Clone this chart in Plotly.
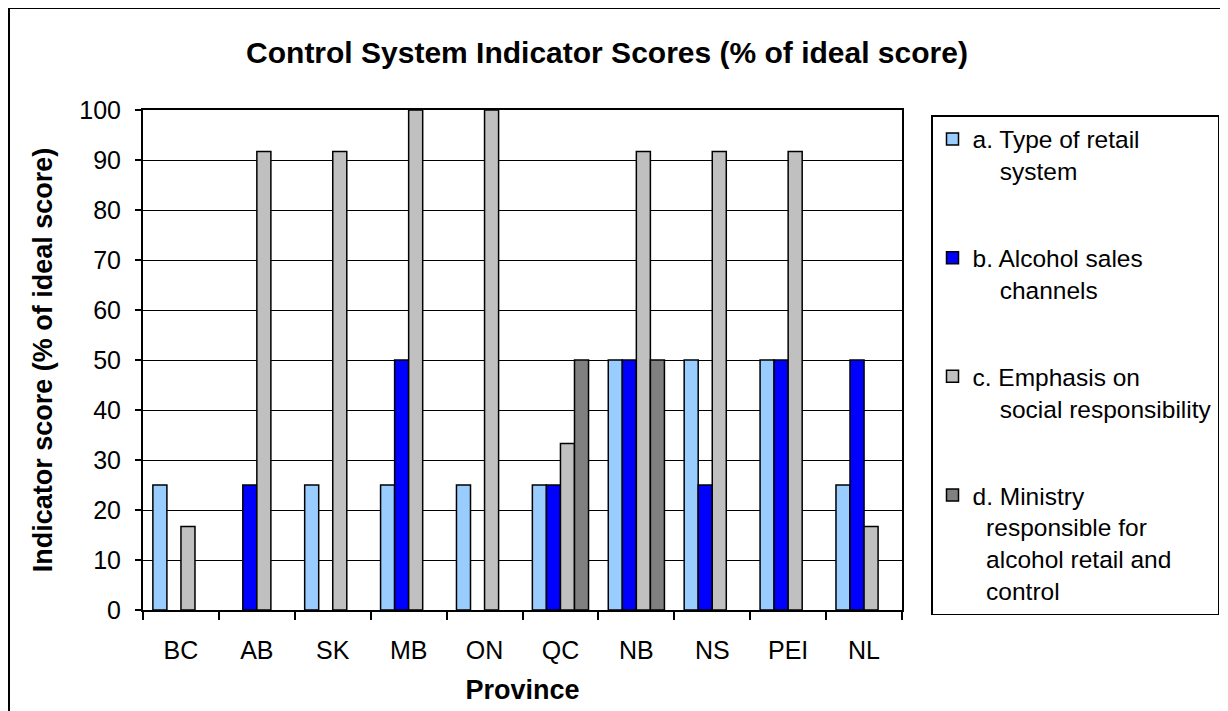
import plotly.graph_objects as go

provinces = ["BC", "AB", "SK", "MB", "ON", "QC", "NB", "NS", "PEI", "NL"]
type_of_retail = [25, 0, 25, 25, 25, 25, 50, 50, 50, 25]
sales_channels = [0, 25, 0, 50, 0, 25, 50, 25, 50, 50]
social_resp = [16.7, 91.7, 91.7, 100, 100, 33.3, 91.7, 91.7, 91.7, 16.7]
ministry = [0, 0, 0, 0, 0, 50, 50, 0, 0, 0]

NB = "\u00a0"
series = [
    ("a. Type of retail<br>" + NB * 4 + "system", type_of_retail, "#99CCFF"),
    ("b. Alcohol sales<br>" + NB * 4 + "channels", sales_channels, "#0000FF"),
    ("c. Emphasis on<br>" + NB * 4 + "social responsibility", social_resp, "#C0C0C0"),
    ("d. Ministry<br>" + NB * 2 + "responsible for<br>" + NB * 2 + "alcohol retail and<br>" + NB * 2 + "control",
     ministry, "#808080"),
]

FONT = "Arial, Liberation Sans, sans-serif"

fig = go.Figure()
for i, (name, vals, col) in enumerate(series):
    fig.add_trace(go.Bar(
        x=provinces, y=[v if v else None for v in vals], name=name, legendgroup=f"g{i}",
        marker=dict(color=col, line=dict(color="black", width=1.5)),
    ))

OFF = 8  # page body margin
W, H = 1220, 711
# plot area in page pixels: x 143..902, y 110..610
ml, mt = 143 - OFF, 110 - OFF
mr = W - (902 - OFF)
mb = H - (610 - OFF)
pw, ph = W - ml - mr, H - mt - mb

def px_x(p):  # page pixel -> paper x
    return (p - OFF - ml) / pw

def px_y(p):  # page pixel -> paper y
    return (H - mb - (p - OFF)) / ph

fig.update_layout(
    width=W, height=H,
    margin=dict(l=ml, r=mr, t=mt, b=mb, autoexpand=False),
    paper_bgcolor="white", plot_bgcolor="white",
    font=dict(family=FONT, color="black", size=25),
    barmode="group", bargap=0.26, bargroupgap=0,
    title=dict(text="<b>Control System Indicator Scores (% of ideal score)</b>",
               x=(607 - OFF) / W, xanchor="center", y=1 - (52 - OFF) / H, yanchor="middle",
               font=dict(size=30, family=FONT, color="black")),
    legend=dict(x=px_x(931), xanchor="left", y=px_y(115), yanchor="top",
                bordercolor="black", borderwidth=1.5, bgcolor="white",
                font=dict(size=24.5, family=FONT, color="black"),
                tracegroupgap=52, traceorder="grouped", valign="top"),
    showlegend=True,
)

fig.update_xaxes(
    type="category", showline=True, linecolor="black", linewidth=2, mirror=True,
    ticks="outside", tickson="boundaries", ticklen=8, tickcolor="black", tickwidth=1.5,
    showgrid=False, tickfont=dict(size=25), ticklabelstandoff=17,
    title=dict(text="<b>Province</b>", font=dict(size=27), standoff=17),
)
fig.update_yaxes(
    range=[0, 100], dtick=10, showline=True, linecolor="black", linewidth=2, mirror=True,
    ticks="outside", ticklen=6, tickcolor="black", tickwidth=1.5,
    showgrid=True, gridcolor="black", gridwidth=1, zeroline=False,
    tickfont=dict(size=25), ticklabelstandoff=9,
    title=dict(text="<b>Indicator score (% of ideal score)</b>", font=dict(size=27), standoff=19),
)

# outer chart frame (top and left edges)
fig.add_shape(type="line", xref="paper", yref="paper",
              x0=px_x(OFF + 1), x1=px_x(W + OFF + 5), y0=px_y(OFF), y1=px_y(OFF),
              line=dict(color="black", width=2))
fig.add_shape(type="line", xref="paper", yref="paper",
              x0=px_x(OFF + 1), x1=px_x(OFF + 1), y0=px_y(OFF), y1=px_y(H + OFF + 5),
              line=dict(color="black", width=2))

fig.write_html("out.html")
